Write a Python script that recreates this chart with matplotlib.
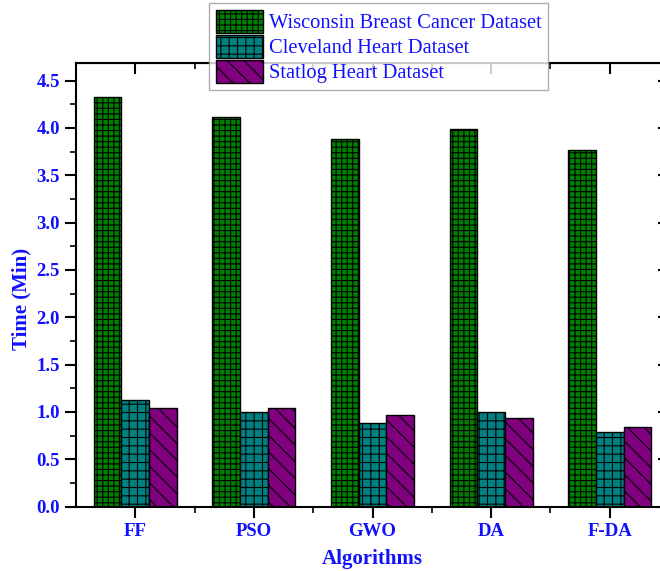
import numpy as np
import matplotlib.pyplot as plt
from matplotlib.ticker import MultipleLocator, FixedLocator

# ------------------ data ------------------
algorithms = ["FF", "PSO", "GWO", "DA", "F-DA"]
wisconsin = [4.33, 4.11, 3.88, 3.99, 3.77]
cleveland = [1.13, 1.00, 0.88, 1.00, 0.79]
statlog = [1.04, 1.04, 0.97, 0.94, 0.84]
series_names = ["Wisconsin Breast Cancer Dataset", "Cleveland Heart Dataset", "Statlog Heart Dataset"]

# ------------------ style ------------------
plt.rcParams["font.family"] = ["Liberation Serif", "DejaVu Serif"]
plt.rcParams["hatch.linewidth"] = 0.8
blue = "#1010ff"

fig = plt.figure(figsize=(6.6, 5.71), dpi=100)
ax = fig.add_axes([76 / 660, 64.3 / 571, 593 / 660, 443.7 / 571])

x = np.arange(len(algorithms))
w = 0.233
ax.bar(x - w, wisconsin, w, color="#008000", edgecolor="black", hatch="+++", linewidth=1, label=series_names[0])
ax.bar(x, cleveland, w, color="#008080", edgecolor="black", hatch="++", linewidth=1, label=series_names[1])
ax.bar(x + w, statlog, w, color="#800080", edgecolor="black", hatch="\\\\", linewidth=1, label=series_names[2])

ax.set_xlim(-0.5, 4.5)
ax.set_ylim(0, 4.685)
ax.set_xticks(x)
ax.set_xticklabels(algorithms)
ax.xaxis.set_minor_locator(FixedLocator(x[:-1] + 0.5))
ax.yaxis.set_major_locator(MultipleLocator(0.5))
ax.yaxis.set_minor_locator(MultipleLocator(0.25))
ax.yaxis.set_major_formatter(plt.FuncFormatter(lambda v, p: f"{v:.1f}"))

ax.tick_params(axis="both", which="major", direction="out", length=8, width=1.5,
               labelsize=13.5, labelcolor=blue, top=False, right=False)
ax.tick_params(axis="both", which="minor", direction="out", length=4, width=1.2, top=False, right=False)
for lab in ax.get_xticklabels() + ax.get_yticklabels():
    lab.set_fontweight("bold")

# inward ticks on top and right
ax2 = ax.secondary_xaxis("top")
ax2.set_xticks(x)
ax2.xaxis.set_minor_locator(FixedLocator(x[:-1] + 0.5))
ax2.tick_params(which="major", direction="in", length=8, width=1.5, labeltop=False)
ax2.tick_params(which="minor", direction="in", length=4, width=1.2)
ax3 = ax.secondary_yaxis("right")
ax3.yaxis.set_major_locator(MultipleLocator(0.5))
ax3.yaxis.set_minor_locator(MultipleLocator(0.25))
ax3.tick_params(which="major", direction="in", length=8, width=1.5, labelright=False)
ax3.tick_params(which="minor", direction="in", length=4, width=1.2)

for s in ax.spines.values():
    s.set_linewidth(1.5)

fig.text(372 / 660, 1 - 559 / 571, "Algorithms", fontsize=15, fontweight="bold", color=blue,
         ha="center", va="center")
fig.text(21 / 660, 1 - 299 / 571, "Time (Min)", fontsize=15, fontweight="bold", color=blue,
         ha="center", va="center", rotation=90)

leg = ax.legend(loc="upper left", bbox_to_anchor=(209 / 660, 568 / 571), bbox_transform=fig.transFigure,
                borderaxespad=0, fontsize=14.8, frameon=True, fancybox=False, edgecolor="#999999",
                handlelength=2.3, handleheight=1.35, borderpad=0.32, labelspacing=0.08, handletextpad=0.3)
leg.get_frame().set_linewidth(1)
leg.set_zorder(10)
for t in leg.get_texts():
    t.set_color(blue)

fig.savefig("out.png", dpi=100)
